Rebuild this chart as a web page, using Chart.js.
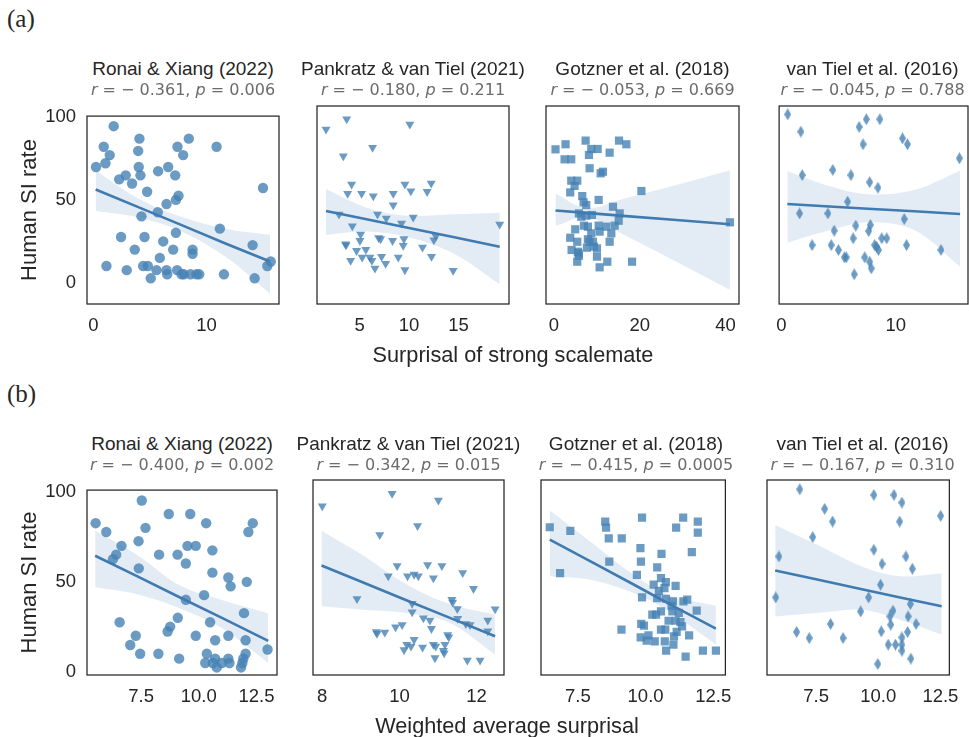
<!DOCTYPE html>
<html>
<head>
<meta charset="utf-8">
<script src="https://cdn.jsdelivr.net/npm/chart.js@4/dist/chart.umd.min.js"></script>
<style>
  html, body { margin:0; padding:0; background:#fff; width:969px; height:737px; overflow:hidden; position:relative; }
  canvas { position:absolute; }
  .txt { position:absolute; white-space:nowrap; transform:translate(-50%,-50%); line-height:1; color:#262626; }
  .ttl { font-family:"Liberation Sans", Arial, sans-serif; font-size:19px; }
  .st { font-family:"DejaVu Sans", sans-serif; font-size:16px; color:#6b6b6b; }
  .xl { font-family:"Liberation Sans", Arial, sans-serif; font-size:21.7px; }
  .pl { font-family:"Liberation Serif", "Times New Roman", serif; font-size:25px; transform:none; }
</style>
</head>
<body>
<script>
// ---------- DATA ----------
const studyNames = ["Ronai & Xiang (2022)", "Pankratz & van Tiel (2021)", "Gotzner et al. (2018)", "van Tiel et al. (2016)"];
const statsStrong = [["0.361","0.006"],["0.180","0.211"],["0.053","0.669"],["0.045","0.788"]];
const statsWeighted = [["0.400","0.002"],["0.342","0.015"],["0.415","0.0005"],["0.167","0.310"]];
const yTicks = [0, 50, 100];
const xTicksStrong = [[0,10],[5,10,15],[0,20,40],[0,10]];
const xTicksWeighted = [[7.5,10,12.5],[8,10,12],[7.5,10,12.5],[7.5,10,12.5]];

// (a) Surprisal of strong scalemate
const ronaiStrongPts = [[1.80,94.5],[4.07,87.0],[8.43,87.0],[0.92,82.1],[7.43,82.1],[10.88,82.1],[3.96,79.6],[1.45,77.1],[7.93,77.1],[1.07,72.2],[0.24,69.9],[4.01,69.9],[6.61,69.9],[5.72,67.4],[4.16,64.9],[7.23,64.9],[2.86,64.9],[2.28,62.5],[3.42,60.0],[14.98,57.3],[4.75,55.0],[7.52,52.6],[7.29,50.1],[6.46,47.6],[5.69,42.7],[4.25,40.2],[11.17,32.8],[7.29,30.3],[2.45,27.8],[4.52,27.8],[6.17,25.1],[14.06,22.9],[3.66,20.2],[7.05,20.2],[8.76,20.2],[8.76,17.7],[5.87,15.2],[15.66,13.0],[1.16,10.3],[4.40,10.3],[4.81,10.3],[15.36,10.3],[2.95,7.8],[5.58,7.8],[6.46,7.8],[7.40,7.8],[11.53,5.3],[6.52,5.3],[7.79,5.3],[8.00,5.3],[8.58,5.3],[9.11,5.3],[9.35,5.3],[5.07,2.9],[14.24,2.9]];
const ronaiStrongBandX = [0.21,3.81,7.64,11.77,15.60];
const ronaiStrongBandHi = [67.8,51.6,40.2,32.6,29.1];
const ronaiStrongBandLo = [43.4,39.8,31.6,15.4,-6.5];
const ronaiStrongFit = [56.4,46.2,35.4,23.6,13.0];

const pankratzStrongPts = [[1.60,87.2],[3.69,93.1],[10.08,90.1],[6.31,76.8],[3.35,72.0],[4.19,55.8],[9.58,55.8],[12.24,56.4],[3.79,50.5],[5.20,50.5],[6.38,49.1],[8.40,50.5],[10.18,52.0],[11.83,51.6],[8.40,44.0],[2.91,38.7],[6.81,38.7],[7.69,36.4],[10.42,37.0],[9.24,33.5],[19.17,33.0],[4.26,32.0],[5.10,27.2],[12.71,26.3],[12.51,24.0],[5.03,23.6],[3.58,21.7],[6.92,25.3],[7.12,24.6],[8.33,23.6],[9.48,24.6],[9.41,20.8],[11.36,19.8],[4.69,17.9],[5.63,18.5],[5.26,14.1],[6.04,14.1],[4.09,12.2],[6.24,12.2],[7.22,14.5],[7.63,10.5],[8.91,14.1],[12.27,14.5],[6.55,7.8],[9.58,6.9],[14.46,6.5],[3.62,21.1]];
const pankratzStrongBandX = [1.60,5.70,9.74,14.46,19.17];
const pankratzStrongBandHi = [53.1,42.5,37.9,38.7,39.6];
const pankratzStrongBandLo = [26.9,28.8,25.9,16.4,-1.3];
const pankratzStrongFit = [40.6,35.8,31.1,25.7,20.2];

const gotznerStrongPts = [[0.35,75.8],[2.69,78.7],[7.37,80.8],[15.17,80.8],[16.88,78.7],[8.69,76.0],[10.18,76.0],[8.15,72.6],[12.98,73.9],[2.46,70.1],[4.02,70.1],[8.30,65.0],[10.88,62.1],[11.42,63.0],[4.02,57.9],[5.42,57.9],[4.80,54.9],[3.78,51.2],[20.39,52.0],[6.59,49.1],[6.90,45.5],[7.52,44.0],[10.41,46.9],[13.76,43.0],[5.81,39.2],[7.52,37.9],[8.85,38.3],[15.32,39.2],[15.09,35.0],[41.05,34.1],[6.98,32.2],[7.91,31.6],[4.95,30.1],[10.41,32.2],[12.20,31.6],[14.15,32.2],[8.69,27.8],[10.64,28.8],[13.37,27.8],[3.78,25.3],[5.42,23.0],[7.91,24.4],[9.08,23.0],[12.98,23.0],[7.68,19.6],[10.02,19.2],[4.10,18.3],[5.73,16.4],[5.81,15.0],[10.02,14.5],[5.42,11.6],[12.44,11.6],[18.21,11.6],[10.64,8.4],[8.30,23.0],[9.30,20.2],[6.35,37.3],[5.57,17.3]];
const gotznerStrongBandX = [0.35,7.52,16.10,28.58,41.05];
const gotznerStrongBandHi = [50.5,42.1,47.4,55.4,63.8];
const gotznerStrongBandLo = [32.0,37.1,27.2,11.6,-4.6];
const gotznerStrongFit = [40.9,39.5,37.8,35.4,33.0];

const vantielStrongPts = [[0.56,95.8],[1.71,85.9],[6.80,88.6],[7.43,93.0],[8.61,93.0],[7.14,78.7],[10.59,82.1],[11.02,78.7],[15.56,70.7],[1.83,61.1],[4.50,64.0],[6.08,61.1],[7.72,57.0],[8.44,53.9],[5.79,45.9],[1.60,39.2],[4.07,39.2],[10.74,36.0],[6.51,32.2],[7.78,32.6],[7.63,29.1],[4.62,29.3],[6.28,25.0],[8.78,25.0],[9.21,25.0],[2.69,21.1],[4.36,21.1],[8.15,21.1],[10.94,21.1],[8.49,18.3],[4.99,18.3],[13.95,18.3],[5.51,14.1],[5.68,14.1],[7.29,14.1],[7.72,11.6],[7.86,7.8],[6.37,4.4],[8.32,20.2]];
const vantielStrongBandX = [0.53,3.84,7.57,11.60,15.62];
const vantielStrongBandHi = [63.4,55.4,50.1,52.6,63.6];
const vantielStrongBandLo = [22.5,28.8,34.1,29.7,8.8];
const vantielStrongFit = [44.6,43.3,41.9,40.4,38.9];

// (b) Weighted average surprisal
const ronaiWeightedPts = [[7.53,95.4],[8.70,87.9],[9.63,87.9],[5.53,82.8],[10.32,82.8],[12.34,82.8],[5.99,77.9],[7.69,80.2],[12.15,77.9],[7.39,72.8],[6.65,70.2],[9.51,70.2],[9.87,70.2],[10.59,67.7],[6.42,65.3],[8.28,65.3],[9.08,65.3],[6.28,62.8],[9.44,60.4],[7.40,57.7],[10.59,55.3],[11.28,52.6],[11.38,47.7],[12.08,50.2],[10.23,42.8],[9.44,40.2],[11.96,32.8],[6.57,27.7],[9.09,30.2],[10.49,27.7],[8.76,25.3],[8.65,22.6],[7.27,20.2],[9.87,20.2],[11.28,20.2],[7.03,15.1],[10.71,17.7],[12.03,17.7],[7.46,10.2],[8.25,10.2],[9.15,7.5],[10.35,10.2],[12.98,12.6],[12.03,10.2],[10.28,5.1],[10.61,5.1],[10.71,7.5],[10.78,2.6],[11.00,5.1],[11.28,7.5],[11.33,5.1],[11.93,7.5],[11.89,5.1],[11.83,2.6]];
const ronaiWeightedBandX = [5.51,7.32,9.19,11.07,13.01];
const ronaiWeightedBandHi = [78.8,65.3,48.1,39.8,32.8];
const ronaiWeightedBandLo = [47.2,43.3,35.4,24.0,5.1];
const ronaiWeightedFit = [64.7,53.4,41.5,29.7,17.4];

const pankratzWeightedPts = [[8.00,87.5],[9.81,94.0],[11.01,90.5],[10.47,77.0],[9.49,72.3],[9.94,56.0],[10.73,56.5],[11.10,56.0],[9.71,50.5],[10.21,50.5],[10.38,51.4],[10.49,50.5],[10.88,49.5],[11.64,52.3],[11.92,43.9],[8.90,38.6],[10.33,36.1],[10.33,31.6],[11.36,38.1],[11.38,36.7],[11.50,33.3],[12.48,33.2],[10.62,28.4],[10.79,27.2],[10.83,22.8],[11.51,28.1],[11.72,25.4],[11.83,24.9],[12.29,27.2],[12.29,21.6],[9.40,21.2],[9.42,20.2],[9.62,20.9],[9.90,23.7],[10.07,24.9],[10.38,17.0],[10.19,14.4],[10.12,11.6],[10.30,13.5],[10.60,13.0],[10.88,14.4],[10.94,13.5],[10.92,7.4],[11.18,14.4],[11.25,19.6],[11.28,18.4],[11.14,11.2],[11.16,10.0],[11.76,6.1],[12.09,6.1]];
const pankratzWeightedBandX = [7.98,9.06,10.18,11.31,12.48];
const pankratzWeightedBandHi = [74.4,61.4,46.3,35.8,30.2];
const pankratzWeightedBandLo = [34.6,32.8,31.1,25.8,9.1];
const pankratzWeightedFit = [56.1,47.2,37.8,28.5,18.8];

const gotznerWeightedPts = [[6.46,76.3],[7.22,74.4],[8.51,79.3],[8.54,76.1],[9.87,81.4],[11.39,81.4],[11.93,79.3],[11.13,76.1],[11.93,73.5],[8.64,70.4],[9.12,70.4],[9.81,65.3],[11.71,63.2],[10.59,62.3],[8.66,58.2],[9.83,58.2],[6.84,52.1],[10.43,55.1],[9.68,51.2],[10.57,49.5],[10.75,47.4],[10.30,46.0],[11.11,45.4],[10.49,42.8],[10.70,44.2],[9.87,39.3],[10.43,38.9],[10.75,38.6],[11.01,37.2],[11.40,37.2],[11.54,38.1],[10.96,34.9],[10.25,30.2],[10.39,30.2],[10.57,31.9],[10.99,31.9],[11.23,31.1],[11.89,32.3],[10.85,27.0],[11.11,27.0],[11.29,26.3],[11.35,24.0],[9.84,25.3],[9.94,24.4],[10.57,22.3],[10.73,22.3],[11.15,21.1],[9.11,22.3],[9.82,18.2],[10.11,19.3],[10.04,16.5],[10.34,16.1],[10.71,16.1],[11.05,18.8],[11.61,19.3],[11.03,14.4],[10.76,11.2],[11.48,8.1],[12.12,11.2],[12.60,11.2]];
const gotznerWeightedBandX = [6.46,7.95,9.56,10.87,12.60];
const gotznerWeightedBandHi = [85.1,68.8,51.2,40.4,34.9];
const gotznerWeightedBandLo = [50.4,48.6,41.6,31.9,14.4];
const gotznerWeightedFit = [69.8,58.4,46.1,35.9,22.8];

const vantielWeightedPts = [[6.84,96.3],[9.82,93.3],[10.63,93.3],[10.95,89.3],[7.84,86.0],[8.16,79.3],[10.86,79.3],[12.51,82.3],[7.36,71.1],[9.82,64.4],[6.00,60.9],[11.11,60.9],[10.15,57.0],[11.37,54.4],[10.09,46.0],[5.87,39.3],[9.61,39.3],[11.29,35.8],[9.29,31.9],[10.59,32.3],[10.47,29.3],[11.20,29.3],[10.50,24.9],[8.08,25.3],[11.52,25.3],[6.71,21.1],[10.12,21.4],[11.18,21.1],[7.22,17.9],[8.58,17.9],[10.95,18.2],[10.40,14.4],[10.69,14.4],[10.95,14.4],[10.95,11.2],[11.31,7.0],[9.98,4.2]];
const vantielWeightedBandX = [5.85,7.54,9.34,10.88,12.55];
const vantielWeightedBandHi = [77.5,67.0,55.6,50.4,52.1];
const vantielWeightedBandLo = [29.3,31.1,32.8,27.5,19.6];
const vantielWeightedFit = [53.5,48.7,43.6,39.3,34.6];

// ---------- STYLE / LAYOUT ----------
const C_PT = 'rgba(70,130,180,0.8)';
const C_LINE = 'rgb(63,122,176)';
const C_BAND = 'rgba(70,130,180,0.15)';
const INK = '#262626';
Chart.defaults.font.family = '"Liberation Sans", Arial, sans-serif';
Chart.defaults.color = INK;

function thinDiamond(w, h, color) {
  const c = document.createElement('canvas');
  c.width = w; c.height = h;
  const g = c.getContext('2d');
  g.fillStyle = color;
  g.beginPath();
  g.moveTo(w / 2, 0); g.lineTo(w, h / 2); g.lineTo(w / 2, h); g.lineTo(0, h / 2);
  g.closePath(); g.fill();
  return c;
}
const diamondImg = thinDiamond(7, 12, C_PT);

const markers = [
  { pointStyle: 'circle', radius: 5.2, rotation: 0 },
  { pointStyle: 'triangle', radius: 5.2, rotation: 180 },
  { pointStyle: 'rect', radius: 5.8, rotation: 0 },
  { pointStyle: diamondImg, radius: 6, rotation: 0 }
];

const framePlugin = {
  id: 'frame',
  afterDatasetsDraw(chart) {
    const { ctx, chartArea: a } = chart;
    ctx.save();
    ctx.strokeStyle = INK;
    ctx.lineWidth = 1.25;
    ctx.strokeRect(a.left, a.top, a.right - a.left, a.bottom - a.top);
    ctx.restore();
  }
};

const rows = [
  {
    top: 106, h: 198, yMin: -12.57, yMax: 100.57,
    frames: [[87,192],[317,192],[546,193],[777,191]],
    xr: [[-0.557,16.39],[0.687,20.11],[-1.87,43.16],[-0.19,16.31]],
    ticks: xTicksStrong, fmt: [0,0,0,0], stats: statsStrong,
    sets: [
      [ronaiStrongPts, ronaiStrongBandX, ronaiStrongBandHi, ronaiStrongBandLo, ronaiStrongFit],
      [pankratzStrongPts, pankratzStrongBandX, pankratzStrongBandHi, pankratzStrongBandLo, pankratzStrongFit],
      [gotznerStrongPts, gotznerStrongBandX, gotznerStrongBandHi, gotznerStrongBandLo, gotznerStrongFit],
      [vantielStrongPts, vantielStrongBandX, vantielStrongBandHi, vantielStrongBandLo, vantielStrongFit]
    ],
    titleY: 68, statY: 90, xlabel: 'Surprisal of strong scalemate', xlabelX: 513, xlabelY: 355
  },
  {
    top: 480, h: 195, yMin: -1.6, yMax: 101.2,
    frames: [[87,190],[313,191],[541,190],[767,191]],
    xr: [[5.156,13.39],[7.76,12.71],[6.136,12.95],[5.52,12.86]],
    ticks: xTicksWeighted, fmt: [1,0,1,1], stats: statsWeighted,
    sets: [
      [ronaiWeightedPts, ronaiWeightedBandX, ronaiWeightedBandHi, ronaiWeightedBandLo, ronaiWeightedFit],
      [pankratzWeightedPts, pankratzWeightedBandX, pankratzWeightedBandHi, pankratzWeightedBandLo, pankratzWeightedFit],
      [gotznerWeightedPts, gotznerWeightedBandX, gotznerWeightedBandHi, gotznerWeightedBandLo, gotznerWeightedFit],
      [vantielWeightedPts, vantielWeightedBandX, vantielWeightedBandHi, vantielWeightedBandLo, vantielWeightedFit]
    ],
    titleY: 443, statY: 465, xlabel: 'Weighted average surprisal', xlabelX: 507, xlabelY: 726
  }
];

function addText(cls, html, x, y) {
  const d = document.createElement('div');
  d.className = 'txt ' + cls;
  d.innerHTML = html;
  d.style.left = x + 'px';
  d.style.top = y + 'px';
  document.body.appendChild(d);
  return d;
}

const PAD_T = 12, PAD_B = 40, PAD_S = 12;

rows.forEach((row) => {
  row.frames.forEach(([fl, fw], i) => {
    const first = i === 0;
    const [pts, bx, bhi, blo, fit] = row.sets[i];
    const canvas = document.createElement('canvas');
    const cLeft = first ? 0 : fl - PAD_S;
    const cw = first ? fl + fw + PAD_S : fw + 2 * PAD_S;
    const ch = PAD_T + row.h + PAD_B;
    canvas.width = cw; canvas.height = ch;
    canvas.style.left = cLeft + 'px';
    canvas.style.top = (row.top - PAD_T) + 'px';
    canvas.style.width = cw + 'px';
    canvas.style.height = ch + 'px';
    document.body.appendChild(canvas);

    const mk = markers[i];
    const tickVals = row.ticks[i];
    const dec = row.fmt[i];

    new Chart(canvas, {
      type: 'scatter',
      data: {
        datasets: [
          { type: 'line', data: bx.map((x, k) => ({ x, y: fit[k] })), borderColor: C_LINE, borderWidth: 2.6, pointRadius: 0, fill: false },
          { type: 'line', data: bx.map((x, k) => ({ x, y: bhi[k] })), borderWidth: 0, borderColor: 'rgba(0,0,0,0)', pointRadius: 0, tension: 0.35, fill: '+1', backgroundColor: C_BAND },
          { type: 'line', data: bx.map((x, k) => ({ x, y: blo[k] })), borderWidth: 0, borderColor: 'rgba(0,0,0,0)', pointRadius: 0, tension: 0.35, fill: false },
          { type: 'scatter', data: pts.map(([x, y]) => ({ x, y })), pointStyle: mk.pointStyle, pointRadius: mk.radius, pointRotation: mk.rotation, backgroundColor: C_PT, borderWidth: 0, borderColor: 'rgba(0,0,0,0)' }
        ]
      },
      options: {
        responsive: false, animation: false, devicePixelRatio: 1,
        layout: { padding: { top: PAD_T, bottom: 0, left: first ? 0 : PAD_S, right: PAD_S } },
        plugins: { legend: { display: false }, tooltip: { enabled: false }, title: { display: false } },
        scales: {
          x: {
            type: 'linear', min: row.xr[i][0], max: row.xr[i][1],
            grid: { display: false, drawTicks: false }, border: { display: false },
            afterBuildTicks: (s) => { s.ticks = tickVals.map(v => ({ value: v })); },
            afterFit: (s) => { s.height = PAD_B; },
            ticks: { font: { size: 18.5 }, color: INK, padding: 11, maxRotation: 0, autoSkip: false,
                     callback: (v) => Number(v).toFixed(dec) }
          },
          y: {
            type: 'linear', display: first, min: row.yMin, max: row.yMax,
            grid: { display: false, drawTicks: false }, border: { display: false },
            afterBuildTicks: (s) => { s.ticks = yTicks.map(v => ({ value: v })); },
            afterFit: (s) => { s.width = first ? fl : 0; },
            ticks: { font: { size: 18.5 }, color: INK, padding: 11 },
            title: { display: true, text: 'Human SI rate', font: { size: 22 }, color: INK, padding: { top: 17, bottom: 0 } }
          }
        }
      },
      plugins: [framePlugin]
    });

    const cx = fl + fw / 2;
    addText('ttl', studyNames[i], cx, row.titleY);
    const s = row.stats[i];
    addText('st', '<i>r</i> = \u2212 ' + s[0] + ', <i>p</i> = ' + s[1], cx, row.statY);
  });
  addText('xl', row.xlabel, row.xlabelX, row.xlabelY);
});

addText('pl', '(a)', 7, 6);
addText('pl', '(b)', 7, 381);
</script>
</body>
</html>
